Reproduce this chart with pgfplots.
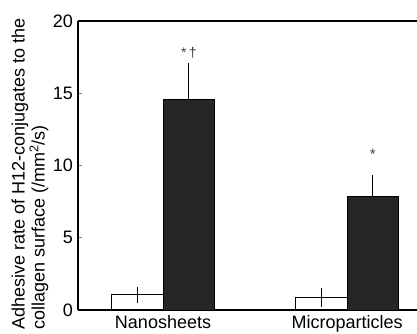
\documentclass[border=0pt]{standalone}
\usepackage{pgfplots}
\pgfplotsset{compat=1.18}
\usepackage{fontspec}
\setmainfont{Liberation Sans}
\begin{document}
\begin{tikzpicture}
\useasboundingbox (-78pt,-24pt) rectangle (339pt,310pt);
\begin{axis}[
  at={(0,0)}, anchor=south west,
  scale only axis,
  width=339pt, height=289pt,
  xmin=-0.462, xmax=1.380,
  ymin=0, ymax=20,
  axis x line=box, axis y line=left,
  x axis line style={-, line width=1.2pt},
  y axis line style={-, line width=1.2pt},
  xtick={0,1}, xticklabels={Nanosheets,Microparticles},
  xtick style={draw=none},
  xticklabel style={inner sep=1pt, yshift=0pt},
  yticklabel style={inner sep=1pt, xshift=-4pt},
  ytick={0,5,10,15,20},
  ytick pos=left, tick align=inside,
  major tick length=4pt,
  ytick style={line width=0.8pt},
  ticklabel style={font=\fontsize{18}{18}\selectfont},
  /pgf/number format/assume math mode=true,
  ylabel={Adhesive rate of H12-conjugates to the\\collagen surface (/mm\textsuperscript{2}/s)},
  ylabel style={at={(axis description cs:-0.1416,0.47)}, anchor=center,
    align=left, inner sep=0pt, font=\fontsize{18}{15.5}\selectfont},
  ybar, bar width=0.28,
  clip=false,
]
\addplot[draw=black, fill=white, line width=1pt, bar shift=-0.14,
  error bars/.cd, y dir=both, y explicit,
  error bar style={line width=1pt},
  error mark options={line width=1pt, mark size=3pt}]
  coordinates {(0,1.05) +- (0,0.33) (1,0.87) +- (0,0.45)};
\addplot[draw=black, fill=black!85, line width=0.8pt, bar shift=0.14,
  error bars/.cd, y dir=plus, y explicit,
  error bar style={line width=1.2pt, black},
  error mark options={line width=1.2pt, mark size=2pt}]
  coordinates {(0,14.55) +- (0,2.4) (1,7.85) +- (0,1.35)};
\node[font=\fontsize{14}{14}\selectfont, black!75] at (axis cs:0.14,17.8) {*\,\textdagger};
\node[font=\fontsize{15}{15}\selectfont, black!75] at (axis cs:1.14,10.75) {*};
\end{axis}
\end{tikzpicture}
\end{document}
